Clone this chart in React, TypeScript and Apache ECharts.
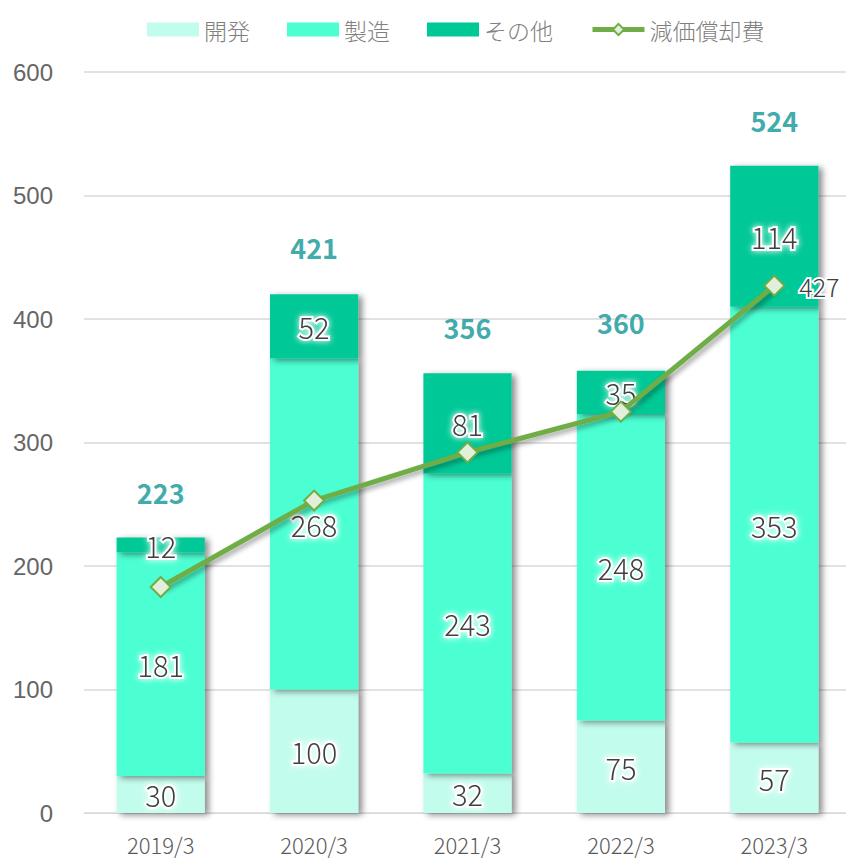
import React, { useEffect, useRef } from "react";
import * as echarts from "echarts";

const categories = ["2019/3", "2020/3", "2021/3", "2022/3", "2023/3"];
const devValues = [30, 100, 32, 75, 57];
const mfgValues = [181, 268, 243, 248, 353];
const otherValues = [12, 52, 81, 35, 114];
const totalLabels = [223, 421, 356, 360, 524];
const depreciation = [183, 253, 292, 325, 427];
const yTicks = [0, 100, 200, 300, 400, 500, 600];

const labelFont = "'Noto Sans CJK JP', 'Noto Sans', sans-serif";

export default function App() {
  const ref = useRef<HTMLDivElement>(null);
  useEffect(() => {
    if (!ref.current) return;
    const chart = echarts.init(ref.current, undefined, { renderer: "svg" });
    const innerLabel = {
      show: true,
      position: "inside",
      fontSize: 29,
      fontWeight: 300,
      color: "#404040",
      fontFamily: labelFont,
      textBorderColor: "#ffffff",
      textBorderWidth: 4,
      textShadowColor: "#ffffff",
      textShadowBlur: 6,
    };
    const barShadow = {
      shadowColor: "rgba(0,0,0,0.45)",
      shadowBlur: 6,
      shadowOffsetX: 4,
      shadowOffsetY: 2,
    };
    chart.setOption({
      animation: false,
      backgroundColor: "#ffffff",
      legend: {
        top: 13,
        left: 142,
        itemWidth: 52,
        itemHeight: 14,
        itemGap: 37,
        textStyle: { fontSize: 23, color: "#7f7f7f", fontFamily: labelFont, fontWeight: 300 },
        data: [
          { name: "開発", icon: "rect" },
          { name: "製造", icon: "rect" },
          { name: "その他", icon: "rect" },
          { name: "減価償却費", lineStyle: { width: 5, shadowBlur: 0 } },
        ],
      },
      grid: { left: 84, right: 0, top: 72, bottom: 50 },
      xAxis: {
        type: "category",
        data: categories,
        axisLine: { show: true, lineStyle: { color: "#d9d9d9", width: 1 } },
        axisTick: { show: false },
        axisLabel: { fontSize: 22, color: "#595959", margin: 20, fontFamily: labelFont, fontWeight: 300 },
      },
      yAxis: {
        type: "value",
        min: yTicks[0],
        max: yTicks[yTicks.length - 1],
        interval: 100,
        axisLine: { show: false },
        axisTick: { show: false },
        splitLine: { lineStyle: { color: "#d9d9d9", width: 1.5 } },
        axisLabel: { fontSize: 24, color: "#666666", margin: 31, fontFamily: "'Liberation Sans', Arial, sans-serif" },
      },
      series: [
        {
          name: "開発",
          type: "bar",
          stack: "total",
          barWidth: "57.5%",
          data: devValues,
          itemStyle: { color: "#C2FCEC", ...barShadow },
          label: innerLabel,
        },
        {
          name: "製造",
          type: "bar",
          stack: "total",
          data: mfgValues,
          itemStyle: { color: "#4BFFD2", ...barShadow },
          label: innerLabel,
        },
        {
          name: "その他",
          type: "bar",
          stack: "total",
          data: otherValues,
          itemStyle: { color: "#00C896", ...barShadow },
          label: innerLabel,
        },
        {
          name: "合計",
          type: "scatter",
          data: totalLabels,
          symbolSize: 0,
          silent: true,
          label: {
            show: true,
            position: "top",
            distance: 32,
            fontSize: 27,
            fontWeight: "bold",
            color: "#0E9595",
            fontFamily: labelFont,
          },
          z: 5,
        },
        {
          name: "減価償却費",
          type: "line",
          data: depreciation,
          symbol: "diamond",
          symbolSize: 20,
          lineStyle: {
            color: "#70AD47",
            width: 5,
            shadowColor: "rgba(0,0,0,0.35)",
            shadowBlur: 5,
            shadowOffsetX: 3,
            shadowOffsetY: 3,
          },
          itemStyle: { color: "#E2EFDA", borderColor: "#70AD47", borderWidth: 2 },
          label: {
            show: true,
            position: "right",
            distance: 14,
            fontSize: 25,
            fontWeight: 300,
            color: "#404040",
            fontFamily: labelFont,
            textBorderColor: "#ffffff",
            textBorderWidth: 4,
            formatter: (p: any) => (p.dataIndex === depreciation.length - 1 ? String(p.value) : ""),
          },
          z: 10,
        },
      ],
    });
    return () => chart.dispose();
  }, []);
  return (
    <div
      ref={ref}
      style={{ position: "fixed", left: 0, top: 0, width: 851, height: 863 }}
    />
  );
}
